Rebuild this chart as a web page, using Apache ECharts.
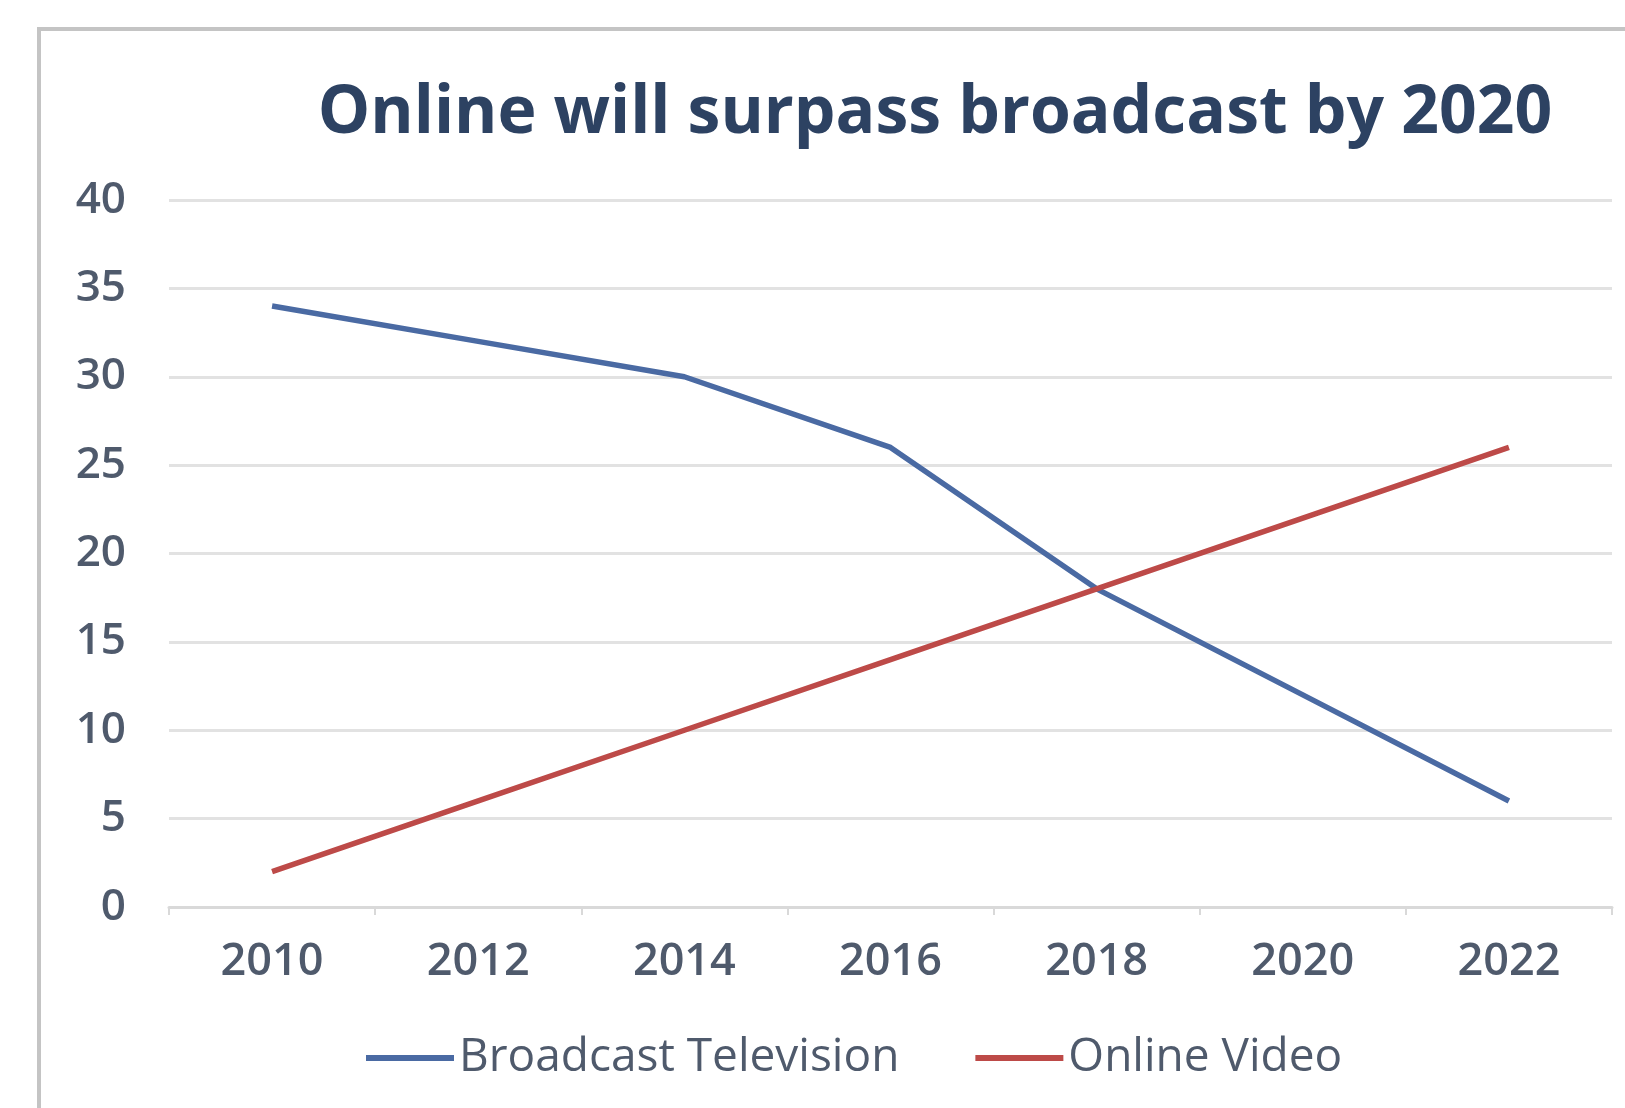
<!DOCTYPE html>
<html>
<head>
<meta charset="utf-8">
<script src="https://cdn.jsdelivr.net/npm/echarts@6/dist/echarts.min.js"></script>
<style>
html,body{margin:0;padding:0;background:#fff;}
#chart{width:1625px;height:1108px;}
</style>
</head>
<body>
<div id="chart"></div>
<script>
var titleText = 'Online will surpass broadcast by 2020';
var categories = ['2010', '2012', '2014', '2016', '2018', '2020', '2022'];
var broadcastTV = [34, 32, 30, 26, 18, 12, 6];
var onlineVideo = [2, 6, 10, 14, 18, 22, 26];
var seriesNames = ['Broadcast Television', 'Online Video'];

var chart = echarts.init(document.getElementById('chart'));
var fontFam = '"Open Sans", Lato, sans-serif';
chart.setOption({
  animation: false,
  backgroundColor: '#ffffff',
  graphic: [{
    type: 'rect',
    shape: {x: 39, y: 29, width: 1700, height: 1200},
    style: {fill: 'none', stroke: '#c4c4c4', lineWidth: 4},
    z: 0
  }],
  title: {
    text: titleText,
    left: 930,
    textAlign: 'center',
    top: 76,
    textStyle: {fontFamily: fontFam, fontSize: 66, fontWeight: 'bold', color: '#2d4262'}
  },
  legend: {
    data: seriesNames,
    left: 361,
    top: 1030,
    icon: 'rect',
    itemWidth: 88,
    itemHeight: 6,
    itemGap: 76,
    textStyle: {fontFamily: fontFam, fontSize: 46, color: '#4f5a6c'}
  },
  grid: {left: 169, right: 13, top: 200, bottom: 201, containLabel: false},
  xAxis: {
    type: 'category',
    data: categories,
    boundaryGap: true,
    axisLine: {show: true, lineStyle: {color: '#d9d9d9', width: 3}},
    axisTick: {show: true, length: 8, lineStyle: {color: '#d9d9d9', width: 2}},
    axisLabel: {margin: 33, fontFamily: fontFam, fontSize: 45, fontWeight: 600, color: '#4f5a6c'}
  },
  yAxis: {
    type: 'value',
    min: 0,
    max: 40,
    interval: 5,
    axisLine: {show: false},
    axisTick: {show: false},
    splitLine: {lineStyle: {color: '#e2e2e2', width: 3}},
    axisLabel: {margin: 43, fontFamily: fontFam, fontSize: 44, fontWeight: 600, color: '#4f5a6c'}
  },
  series: [{
    name: seriesNames[0],
    type: 'line',
    data: broadcastTV,
    showSymbol: false,
    symbol: 'none',
    color: '#4a6aa3',
    lineStyle: {width: 5.5, color: '#4a6aa3'}
  }, {
    name: seriesNames[1],
    type: 'line',
    data: onlineVideo,
    showSymbol: false,
    symbol: 'none',
    color: '#bd4a48',
    lineStyle: {width: 5.5, color: '#bd4a48'}
  }]
});
</script>
</body>
</html>
